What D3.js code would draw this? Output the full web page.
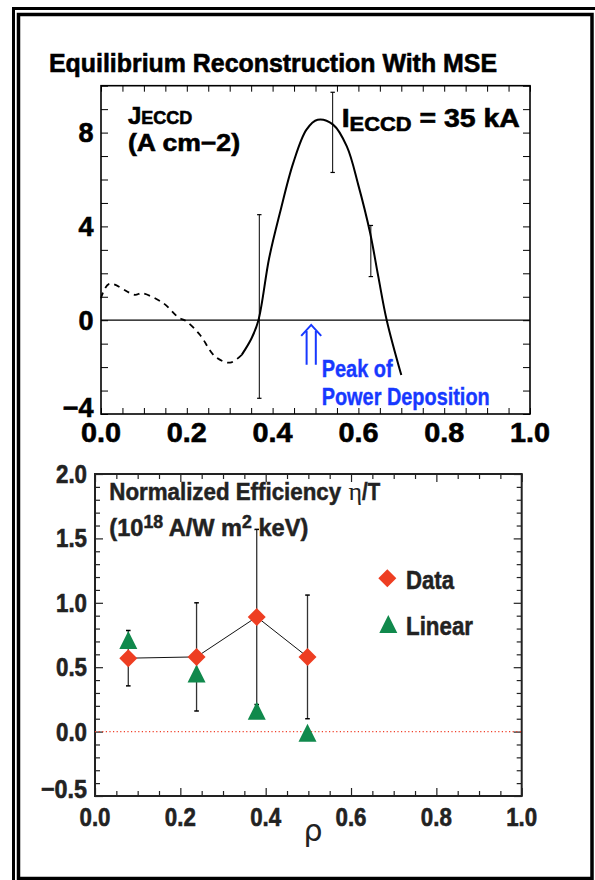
<!DOCTYPE html>
<html><head><meta charset="utf-8">
<script src="https://cdn.jsdelivr.net/npm/d3@7"></script>
<style>body{margin:0;background:#fff} svg{display:block}</style>
</head><body>
<svg id="c" width="595" height="880"></svg>
<script>
// ---------- data (top panel: J_ECCD profile) ----------
const rhoDashed = [0, 0.019, 0.079, 0.095, 0.145, 0.18, 0.2, 0.231, 0.266, 0.301, 0.328];
const jDashed   = [0.94, 1.55, 1.08, 1.15, 0.73, 0.13, -0.06, -0.63, -1.55, -1.81, -1.48];
const rhoSolid  = [0.328, 0.351, 0.367, 0.392, 0.417, 0.448, 0.479, 0.505, 0.541, 0.573, 0.6, 0.627, 0.646, 0.666, 0.7];
const jSolid    = [-1.48, -0.77, 0, 2.65, 4.57, 6.7, 8.13, 8.55, 8.34, 7.41, 5.75, 3.75, 1.9, 0, -2.34];
const errRho = [0.369, 0.54, 0.629];
const errLo  = [-3.33, 6.3, 1.86];
const errHi  = [4.5, 9.72, 4.04];
const topXTicks = [0, 0.2, 0.4, 0.6, 0.8, 1.0];
const topYTicks = [-4, 0, 4, 8];
const arrowRho = 0.49;

// ---------- data (bottom panel: normalized efficiency) ----------
const rhoPts    = [0.078, 0.238, 0.379, 0.498];
const etaData   = [0.57, 0.58, 0.89, 0.58];
const etaErr    = [0.215, 0.42, 0.68, 0.48];
const etaLinear = [0.70, 0.44, 0.15, -0.02];
const botXTicks = [0, 0.2, 0.4, 0.6, 0.8, 1.0];
const botYTicks = [-0.5, 0, 0.5, 1.0, 1.5, 2.0];

const FONT = "'Liberation Sans', Arial, Helvetica, sans-serif";
const svg = d3.select("#c");
const fmt = v => (v < 0 ? "\u2212" : "") + d3.format(".1f")(Math.abs(v));
// heavy bold text helper
function heavy(sel, col, w) {
  return sel.attr("font-family", FONT).attr("font-weight", "bold").attr("fill", col)
    .attr("stroke", col).attr("stroke-width", w == null ? 0.6 : w).attr("paint-order", "stroke");
}

// outer double frame
svg.append("rect").attr("x", 13.5).attr("y", 8.5).attr("width", 620).attr("height", 900)
  .attr("fill", "none").attr("stroke", "#000").attr("stroke-width", 3);
svg.append("rect").attr("x", 18.5).attr("y", 14.5).attr("width", 573.5).attr("height", 864)
  .attr("fill", "none").attr("stroke", "#000").attr("stroke-width", 3.5);

// title
heavy(svg.append("text"), "#000").attr("x", 273).attr("y", 71.7).attr("text-anchor", "middle")
  .attr("font-size", 25.5).attr("textLength", 448).attr("lengthAdjust", "spacingAndGlyphs")
  .text("Equilibrium Reconstruction With MSE");

// ================= TOP PANEL =================
const x1 = d3.scaleLinear().domain([0, 1]).range([101, 530]);
const y1 = d3.scaleLinear().domain([-4, 10]).range([414, 85.7]);
const g1 = svg.append("g");

function minorAxis(g, axis, tr) {
  const a = g.append("g").attr("transform", tr).call(axis);
  a.select(".domain").remove();
  a.selectAll(".tick line").attr("stroke", "#000").attr("stroke-width", 1);
  a.selectAll("text").remove();
  return a;
}
const xMinor1 = d3.range(0, 1.0001, 0.05);
const yMinor1 = d3.range(-4, 10.0001, 1);
minorAxis(g1, d3.axisBottom(x1).tickValues(xMinor1).tickSize(-6), `translate(0,${y1(-4)})`);
minorAxis(g1, d3.axisTop(x1).tickValues(xMinor1).tickSize(-6), `translate(0,${y1(10)})`);
minorAxis(g1, d3.axisLeft(y1).tickValues(yMinor1).tickSize(-7), `translate(${x1(0)},0)`);
minorAxis(g1, d3.axisRight(y1).tickValues(yMinor1).tickSize(-7), `translate(${x1(1)},0)`);

g1.append("rect").attr("x", x1(0)).attr("y", y1(10)).attr("width", x1(1) - x1(0)).attr("height", y1(-4) - y1(10))
  .attr("fill", "none").attr("stroke", "#000").attr("stroke-width", 1.6);

// tick labels
heavy(g1.selectAll("text.xl").data(topXTicks).join("text").attr("class", "xl"), "#000")
  .attr("x", d => x1(d)).attr("y", 442).attr("text-anchor", "middle")
  .attr("font-size", 27).attr("textLength", 40).attr("lengthAdjust", "spacingAndGlyphs").text(fmt);
heavy(g1.selectAll("text.yl").data(topYTicks).join("text").attr("class", "yl"), "#000")
  .attr("x", 93.5).attr("y", d => y1(d) + (d === -4 ? 2.7 : 9.6)).attr("text-anchor", "end")
  .attr("font-size", 27)
  .text(d => (d < 0 ? "\u2212" : "") + Math.abs(d));

// zero line
g1.append("line").attr("x1", x1(0)).attr("x2", x1(1)).attr("y1", y1(0)).attr("y2", y1(0))
  .attr("stroke", "#000").attr("stroke-width", 1.2);

// curves
const line1 = d3.line().x(d => x1(d[0])).y(d => y1(d[1])).curve(d3.curveCatmullRom.alpha(0.5));
g1.append("path").datum(rhoDashed.map((r, i) => [r, jDashed[i]])).attr("d", line1)
  .attr("fill", "none").attr("stroke", "#000").attr("stroke-width", 1.8).attr("stroke-dasharray", "6,5");
g1.append("path").datum(rhoSolid.map((r, i) => [r, jSolid[i]])).attr("d", line1)
  .attr("fill", "none").attr("stroke", "#000").attr("stroke-width", 2);

// error bars
errRho.forEach((r, i) => {
  const xx = x1(r);
  g1.append("line").attr("x1", xx).attr("x2", xx).attr("y1", y1(errLo[i])).attr("y2", y1(errHi[i]))
    .attr("stroke", "#000").attr("stroke-width", 1);
  [errLo[i], errHi[i]].forEach(v => g1.append("line").attr("x1", xx - 2.2).attr("x2", xx + 2.2)
    .attr("y1", y1(v)).attr("y2", y1(v)).attr("stroke", "#000").attr("stroke-width", 1.2));
});

// annotations
const tJ = heavy(g1.append("text"), "#000").attr("x", 128).attr("y", 124);
tJ.append("tspan").attr("font-size", 24).text("J");
tJ.append("tspan").attr("font-size", 18).text("ECCD");
heavy(g1.append("text"), "#000").attr("x", 128).attr("y", 151)
  .attr("font-size", 24).attr("textLength", 112).attr("lengthAdjust", "spacingAndGlyphs").text("(A cm\u22122)");
const tI = heavy(g1.append("text"), "#000").attr("x", 341.7).attr("y", 127)
  .attr("textLength", 178).attr("lengthAdjust", "spacingAndGlyphs");
tI.append("tspan").attr("font-size", 26).text("I");
tI.append("tspan").attr("font-size", 20).attr("dy", 3.5).text("ECCD");
tI.append("tspan").attr("font-size", 26).attr("dy", -3.5).text(" = 35 kA");

// blue arrow
const BLUE = "#1738ff";
const ax = x1(arrowRho), aTop = y1(-0.2), aBot = y1(-1.9);
g1.append("path").attr("d", `M${ax - 4.6},${aTop + 6} L${ax - 4.6},${aBot} M${ax + 4.6},${aTop + 6} L${ax + 4.6},${aBot} M${ax - 10},${aTop + 11} L${ax},${aTop} L${ax + 10},${aTop + 11}`)
  .attr("fill", "none").attr("stroke", BLUE).attr("stroke-width", 2);
heavy(g1.append("text"), BLUE, 0.4).attr("x", 321.7).attr("y", 377)
  .attr("font-size", 24).attr("textLength", 71).attr("lengthAdjust", "spacingAndGlyphs").text("Peak of");
heavy(g1.append("text"), BLUE, 0.4).attr("x", 321.7).attr("y", 404.5)
  .attr("font-size", 24).attr("textLength", 168).attr("lengthAdjust", "spacingAndGlyphs").text("Power Deposition");

// ================= BOTTOM PANEL =================
const x2 = d3.scaleLinear().domain([0, 1]).range([95, 521.7]);
const y2 = d3.scaleLinear().domain([-0.5, 2.0]).range([796, 474]);
const g2 = svg.append("g");
const DARK = "#222";
const xMinor2 = d3.range(0, 1.0001, 0.05);
const yMinor2 = d3.range(-0.5, 2.0001, 0.1);
function minorAxis2(axis, tr) {
  const a = g2.append("g").attr("transform", tr).call(axis);
  a.select(".domain").remove();
  a.selectAll(".tick line").attr("stroke", DARK).attr("stroke-width", 1.2);
  a.selectAll("text").remove();
}
const isMajX = d => Math.abs(d * 5 - Math.round(d * 5)) < 1e-6;
const isMajY = d => Math.abs(d * 2 - Math.round(d * 2)) < 1e-6;
minorAxis2(d3.axisBottom(x2).tickValues(xMinor2.filter(d => !isMajX(d))).tickSize(-5), `translate(0,${y2(-0.5)})`);
minorAxis2(d3.axisBottom(x2).tickValues(xMinor2.filter(isMajX)).tickSize(-8), `translate(0,${y2(-0.5)})`);
minorAxis2(d3.axisTop(x2).tickValues(xMinor2.filter(d => !isMajX(d))).tickSize(-5), `translate(0,${y2(2)})`);
minorAxis2(d3.axisTop(x2).tickValues(xMinor2.filter(isMajX)).tickSize(-8), `translate(0,${y2(2)})`);
minorAxis2(d3.axisLeft(y2).tickValues(yMinor2.filter(d => !isMajY(d))).tickSize(-5), `translate(${x2(0)},0)`);
minorAxis2(d3.axisLeft(y2).tickValues(yMinor2.filter(isMajY)).tickSize(-8), `translate(${x2(0)},0)`);
minorAxis2(d3.axisRight(y2).tickValues(yMinor2.filter(d => !isMajY(d))).tickSize(-5), `translate(${x2(1)},0)`);
minorAxis2(d3.axisRight(y2).tickValues(yMinor2.filter(isMajY)).tickSize(-8), `translate(${x2(1)},0)`);

g2.append("rect").attr("x", x2(0)).attr("y", y2(2)).attr("width", x2(1) - x2(0)).attr("height", y2(-0.5) - y2(2))
  .attr("fill", "none").attr("stroke", DARK).attr("stroke-width", 2);

heavy(g2.selectAll("text.xl").data(botXTicks).join("text").attr("class", "xl"), DARK)
  .attr("x", d => x2(d)).attr("y", 826).attr("text-anchor", "middle")
  .attr("font-size", 26).attr("textLength", 31).attr("lengthAdjust", "spacingAndGlyphs").text(fmt);
heavy(g2.selectAll("text.yl").data(botYTicks).join("text").attr("class", "yl"), DARK)
  .attr("x", 87).attr("y", d => y2(d) + (d < 0 ? 2 : 9)).attr("text-anchor", "end")
  .attr("font-size", 26).attr("textLength", d => d < 0 ? 46 : 31).attr("lengthAdjust", "spacingAndGlyphs").text(fmt);

// rho label
g2.append("text").attr("x", 313).attr("y", 841).attr("text-anchor", "middle").attr("fill", DARK)
  .attr("font-family", "'DejaVu Sans', sans-serif").attr("font-size", 30).text("\u03c1");

// zero dotted line
g2.append("line").attr("x1", x2(0)).attr("x2", x2(1)).attr("y1", y2(0)).attr("y2", y2(0))
  .attr("stroke", "#f0402a").attr("stroke-width", 1.2).attr("stroke-dasharray", "1.2,2.4");

// panel text (horizontally condensed via transform)
heavy(g2.append("text"), DARK, 0.5).attr("transform", "translate(109.3,500) scale(0.93,1)")
  .attr("font-size", 24).text("Normalized Efficiency");
g2.append("text").attr("x", 348.5).attr("y", 500).attr("fill", DARK)
  .attr("font-family", "'Liberation Serif', 'Times New Roman', serif").attr("font-size", 26).text("\u03b7");
heavy(g2.append("text"), DARK, 0.5).attr("transform", "translate(362,500) scale(0.85,1)")
  .attr("font-size", 24).text("/T");
const tU = heavy(g2.append("text"), DARK, 0.5).attr("x", 109.3).attr("y", 536)
  .attr("font-size", 24).attr("textLength", 199).attr("lengthAdjust", "spacingAndGlyphs");
tU.append("tspan").text("(10");
tU.append("tspan").attr("font-size", 18).attr("dy", -8).text("18");
tU.append("tspan").attr("dy", 8).text(" A/W m");
tU.append("tspan").attr("font-size", 18).attr("dy", -8).text("2");
tU.append("tspan").attr("dy", 8).text(" keV)");

// error bars for data
const RED = "#ee3e22", GREEN = "#10894c";
rhoPts.forEach((r, i) => {
  const xx = x2(r), lo = y2(etaData[i] - etaErr[i]), hi = y2(etaData[i] + etaErr[i]);
  g2.append("line").attr("x1", xx).attr("x2", xx).attr("y1", lo).attr("y2", hi).attr("stroke", "#333").attr("stroke-width", 1.3);
  [lo, hi].forEach(v => g2.append("line").attr("x1", xx - 2.3).attr("x2", xx + 2.3).attr("y1", v).attr("y2", v)
    .attr("stroke", "#000").attr("stroke-width", 1.5));
});
// connecting line
g2.append("path").datum(rhoPts.map((r, i) => [r, etaData[i]]))
  .attr("d", d3.line().x(d => x2(d[0])).y(d => y2(d[1])))
  .attr("fill", "none").attr("stroke", "#111").attr("stroke-width", 1);

const triPath = "M0,-10.5 L9,7.5 L-9,7.5 Z";
const diaPath = "M0,-9 L9,0 L0,9 L-9,0 Z";
g2.selectAll("path.lin").data(rhoPts.map((r, i) => [r, etaLinear[i]])).join("path").attr("class", "lin")
  .attr("d", triPath).attr("transform", d => `translate(${x2(d[0])},${y2(d[1])})`).attr("fill", GREEN);
g2.selectAll("path.dat").data(rhoPts.map((r, i) => [r, etaData[i]])).join("path").attr("class", "dat")
  .attr("d", diaPath).attr("transform", d => `translate(${x2(d[0])},${y2(d[1])})`).attr("fill", RED);

// legend
g2.append("path").attr("d", diaPath).attr("transform", "translate(387.3,578.3)").attr("fill", RED);
heavy(g2.append("text"), DARK, 0.5).attr("x", 406).attr("y", 588.5)
  .attr("font-size", 26).attr("textLength", 48).attr("lengthAdjust", "spacingAndGlyphs").text("Data");
g2.append("path").attr("d", triPath).attr("transform", "translate(388.3,625.5)").attr("fill", GREEN);
heavy(g2.append("text"), DARK, 0.5).attr("x", 406).attr("y", 634.5)
  .attr("font-size", 26).attr("textLength", 67).attr("lengthAdjust", "spacingAndGlyphs").text("Linear");
</script>
</body></html>
